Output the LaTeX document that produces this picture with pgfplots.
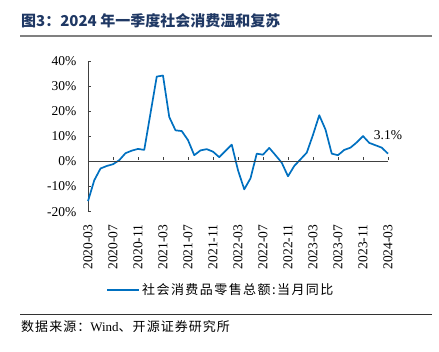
\documentclass[border=0pt]{standalone}
\usepackage{pgfplots}
\pgfplotsset{compat=1.18}
\usepackage{fontspec}
\setmainfont{Liberation Serif}
\newfontfamily\cjk{Noto Sans CJK SC}
\newfontfamily\cjksp[LetterSpace=11]{Noto Sans CJK SC}
\newfontfamily\cjksrc[LetterSpace=8]{Noto Sans CJK SC}
\definecolor{lineblue}{RGB}{0,112,192}
\definecolor{titleblue}{RGB}{31,56,100}
\begin{document}
\begin{tikzpicture}
\path[use as bounding box] (0pt,0pt) rectangle (439pt,352pt);
% title
\node[anchor=west, inner sep=0pt, text=titleblue, font=\cjk\bfseries\fontsize{15}{18}\selectfont] at (21pt,331pt) {图3：2024 年一季度社会消费温和复苏};
\draw[line width=1.2pt, gray] (20pt,316pt) -- (432pt,316pt);
% source
\draw[line width=0.8pt, black!80] (20pt,38pt) -- (432pt,38pt);
\node[anchor=west, inner sep=0pt, font=\fontsize{13}{15}\selectfont] at (21pt,25pt) {{\cjksrc 数据来源：}Wind{\cjksrc 、开源证券研究所}};

\begin{axis}[
  at={(88pt,140.3pt)}, anchor=south west,
  scale only axis, width=300pt, height=150.7pt,
  xmin=0, xmax=48, ymin=-20, ymax=40,
  axis y line=left, axis x line=bottom,
  x axis line style={draw=none},
  y axis line style={-, line width=0.6pt, black!75},
  xtick={0,4,...,48},
  xticklabels={2020-03,2020-07,2020-11,2021-03,2021-07,2021-11,2022-03,2022-07,2022-11,2023-03,2023-07,2023-11,2024-03},
  major x tick style={draw=none},
  xticklabel style={rotate=90, anchor=east, font=\fontsize{13.5}{15}\selectfont},
  xticklabel shift=8pt,
  ytick={-20,-10,0,10,20,30,40},
  yticklabel={\pgfmathprintnumber{\tick}\%},
  yticklabel style={font=\fontsize{13.5}{15}\selectfont},
  yticklabel shift=8pt,
  ytick align=inside, major tick length=3pt,
  major y tick style={line width=0.6pt, black!75},
  /pgf/number format/assume math mode=true,
  legend style={at={(0.06,-0.52)}, anchor=west, draw=none, font=\cjksp\fontsize{13}{15}\selectfont, inner sep=0pt},
  legend image code/.code={\draw[line width=2pt, lineblue] (0pt,0pt) -- (32pt,0pt);},
  clip=false,
]
\addplot[lineblue, line width=1.7pt, line join=round] coordinates {
(0,-15.8) (1,-7.5) (2,-2.8) (3,-1.8) (4,-1.1) (5,0.5) (6,3.3) (7,4.3) (8,5.0) (9,4.6)
(11,33.8) (12,34.2) (13,17.7) (14,12.4) (15,12.1) (16,8.5) (17,2.5) (18,4.4) (19,4.9) (20,3.9) (21,1.7)
(23,6.7) (24,-3.5) (25,-11.1) (26,-6.7) (27,3.1) (28,2.7) (29,5.4) (30,2.5) (31,-0.5) (32,-5.9) (33,-1.8)
(35,3.5) (36,10.6) (37,18.4) (38,12.7) (39,3.1) (40,2.5) (41,4.6) (42,5.5) (43,7.6) (44,10.1) (45,7.4)
(47,5.5) (48,3.1)
};
\addlegendentry{社会消费品零售总额:当月同比}
\node[font=\fontsize{13.5}{15}\selectfont, anchor=center] at (axis cs:48,10.5) {3.1\%};
\end{axis}

\begin{axis}[
  at={(88pt,140.3pt)}, anchor=south west,
  scale only axis, width=300pt, height=150.7pt,
  xmin=0, xmax=48, ymin=-20, ymax=40,
  axis x line=middle, axis y line=none,
  x axis line style={-, line width=0.6pt, black!75},
  xtick={0,4,...,48}, xticklabels={},
  tick align=inside, major tick length=3pt,
  major x tick style={line width=0.6pt, black!75, yshift=1.5pt},
  ytick=\empty,
]
\end{axis}
\end{tikzpicture}
\end{document}
